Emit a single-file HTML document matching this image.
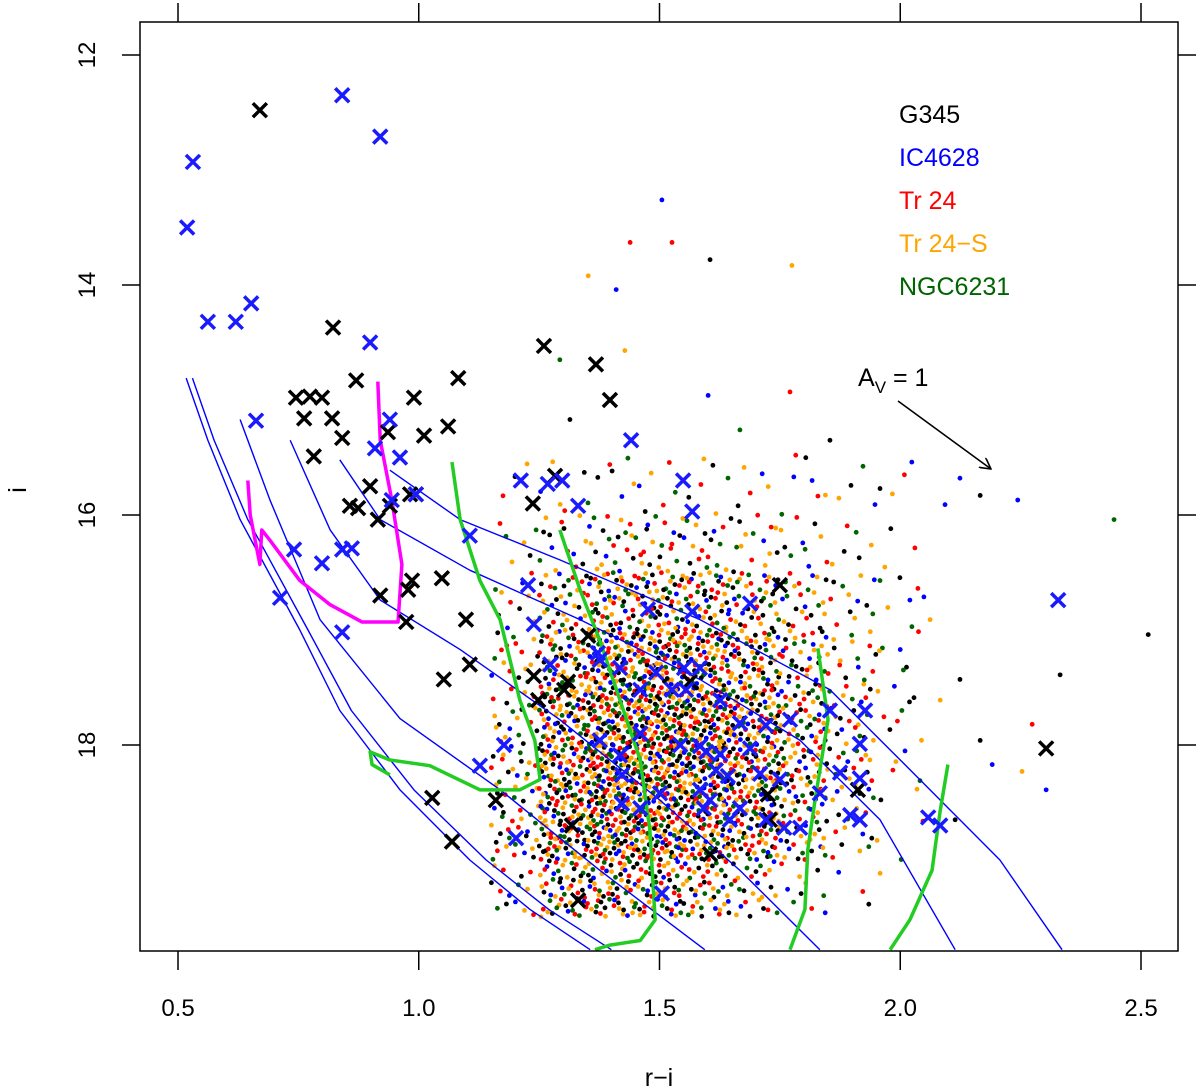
<!DOCTYPE html>
<html><head><meta charset="utf-8"><style>
html,body{margin:0;padding:0;background:#fff}
svg{display:block;font-family:"Liberation Sans",sans-serif}
</style></head><body>
<svg id="chart" width="1200" height="1092" viewBox="0 0 1200 1092" xmlns="http://www.w3.org/2000/svg">
<defs><clipPath id="clip"><rect x="140" y="22" width="1038" height="929"/></clipPath>
<marker id="ah" markerWidth="12" markerHeight="12" refX="11" refY="6" orient="auto" markerUnits="userSpaceOnUse"><path d="M0,0 L11,6 L0,12" fill="none" stroke="#000" stroke-width="1.6"/></marker></defs>
<g id="dots" clip-path="url(#clip)"></g>
<g id="lines" clip-path="url(#clip)"></g>
<g id="crosses" clip-path="url(#clip)"></g>
<rect x="140" y="22" width="1038" height="929" fill="none" stroke="#000" stroke-width="1.5"/>
<g id="axes"></g>
<text x="659" y="1086" font-size="25" text-anchor="middle">r−i</text>
<text x="0" y="0" font-size="25" text-anchor="middle" transform="translate(26,490) rotate(-90)">i</text>
<g font-size="25">
<text x="899" y="123" fill="#000">G345</text>
<text x="899" y="166" fill="#0000ff">IC4628</text>
<text x="899" y="209" fill="#ff0000">Tr 24</text>
<text x="899" y="252" fill="#ffa500">Tr 24−S</text>
<text x="899" y="295" fill="#006400">NGC6231</text>
</g>
<g>
<text x="858" y="386" font-size="25">A<tspan font-size="17" dy="7">V</tspan><tspan dy="-7"> = 1</tspan></text>
<line x1="898" y1="401" x2="991" y2="469" stroke="#000" stroke-width="1.6" marker-end="url(#ah)"/>
</g>
</svg>
<script>
const xTicks=[0.5,1.0,1.5,2.0,2.5];
const xTickLabels=["0.5","1.0","1.5","2.0","2.5"];
const yTicks=[12,14,16,18];
const yTickLabels=["12","14","16","18"];
const clusterNames=["G345","IC4628","Tr 24","Tr 24-S","NGC6231"];
const clusterColors=["#000000","#0000ff","#ff0000","#ffa500","#006400"];
const clusterShare=[0.22,0.12,0.22,0.26,0.18];
const gridRi=[1.15,1.25,1.35,1.45,1.55,1.65,1.75,1.85,1.95];
const gridI=[15.5,16.0,16.5,17.0,17.5,18.0,18.5,19.0];
const gridCounts=[
[3,5,7,6,6,5,5,4,2],
[6,14,20,20,17,14,10,6,3],
[10,34,50,55,50,38,24,12,5],
[16,55,80,85,75,58,36,17,6],
[20,72,100,105,95,75,46,22,8],
[24,80,105,105,95,78,48,20,6],
[26,78,95,95,82,64,36,12,3],
[14,50,60,54,42,25,10,3,1]];
const outRi=[1.505,1.439,1.526,1.352,1.605,1.410,1.775,1.428,1.601,1.771,1.854,1.783,1.817,1.958,2.024,2.124,2.093,2.166,2.244,2.444,2.515,2.332,2.274,2.191,2.253,2.303,2.124,2.083,2.000,2.062,2.020,2.166,2.114,1.937,1.958,1.667,1.293,1.314];
const outI=[13.26,13.63,13.63,13.92,13.78,14.04,13.83,14.57,14.96,14.93,15.35,15.48,15.70,15.77,15.54,15.68,15.91,15.83,15.87,16.04,17.04,17.39,17.82,18.17,18.23,18.39,17.43,17.61,17.17,16.91,16.74,17.96,18.65,18.13,16.57,15.26,14.65,15.17];
const outC=[1,2,2,3,0,1,3,3,1,2,0,2,1,0,1,1,1,0,1,4,0,0,2,1,3,1,0,3,1,3,1,0,0,3,4,4,4,0];
const blackRi=[0.670,0.822,0.745,0.774,0.799,0.870,0.762,0.820,0.782,0.841,0.990,1.082,1.061,1.011,0.899,0.857,0.874,0.936,0.982,0.994,0.940,0.915,0.920,0.986,0.978,1.048,0.974,1.098,1.052,1.106,1.260,1.368,1.397,1.237,1.283,1.248,1.302,1.310,1.352,1.563,1.750,1.028,1.069,1.160,1.318,1.331,1.605,1.725,1.912,2.303,1.729,1.239];
const blackI=[12.48,14.37,14.98,14.97,14.98,14.83,15.16,15.16,15.49,15.33,14.98,14.81,15.23,15.31,15.75,15.92,15.94,15.28,15.82,15.82,15.92,16.04,16.70,16.57,16.65,16.55,16.93,16.91,17.43,17.30,14.53,14.69,15.00,15.90,15.66,17.61,17.52,17.45,17.05,17.45,16.61,18.46,18.84,18.48,18.70,19.35,18.95,18.43,18.39,18.03,18.65,17.40];
const blueRi=[0.841,0.920,0.531,0.519,0.652,0.562,0.620,0.899,0.662,0.940,0.909,0.961,0.994,0.944,0.741,0.799,0.841,0.861,0.712,0.841,1.441,1.212,1.268,1.298,1.331,1.549,1.568,1.106,1.227,1.239,1.273,1.476,1.568,1.688,1.372,1.376,1.418,1.460,1.493,1.526,1.551,1.584,1.555,1.626,1.667,1.721,1.771,1.854,1.927,1.916,1.376,1.460,1.418,1.543,1.584,1.597,1.626,1.642,1.688,1.709,1.750,1.833,1.875,1.896,1.916,1.916,1.422,1.422,1.501,1.460,1.584,1.605,1.592,1.617,1.667,1.646,1.721,1.759,1.792,1.127,1.177,1.202,1.505,2.058,2.083,2.328];
const blueI=[12.35,12.71,12.93,13.50,14.16,14.32,14.32,14.50,15.18,15.17,15.42,15.50,15.82,15.87,16.30,16.42,16.30,16.29,16.72,17.02,15.35,15.70,15.73,15.70,15.92,15.70,15.97,16.18,16.61,16.95,17.30,16.82,16.84,16.77,17.20,17.26,17.33,17.52,17.37,17.52,17.33,17.33,17.52,17.61,17.81,17.83,17.78,17.70,17.70,17.99,17.96,17.90,18.09,18.00,18.01,18.06,18.08,18.27,18.03,18.25,18.30,18.42,18.24,18.61,18.65,18.29,18.26,18.51,18.42,18.55,18.39,18.48,18.55,18.22,18.55,18.65,18.65,18.72,18.72,18.18,18.00,18.81,19.29,18.63,18.70,16.74];
const iso1aRi=[0.517,0.562,0.629,0.753,0.836,0.961,1.106,1.231,1.356];
const iso1aI=[14.81,15.35,16.04,17.0,17.70,18.39,19.0,19.43,19.78];
const iso1bRi=[0.53,0.575,0.645,0.77,0.86,0.99,1.14,1.27,1.40];
const iso1bI=[14.81,15.35,16.04,17.0,17.70,18.39,19.0,19.43,19.78];
const iso2Ri=[0.629,0.691,0.795,0.961,1.169,1.376,1.594];
const iso2I=[15.17,15.87,16.91,17.77,18.39,19.09,19.78];
const iso3Ri=[0.733,0.816,0.920,1.086,1.293,1.501,1.667,1.833];
const iso3I=[15.35,16.13,16.74,17.17,17.78,18.48,19.09,19.78];
const iso4Ri=[0.836,0.920,1.106,1.335,1.584,1.792,1.958,2.114];
const iso4I=[15.52,16.04,16.48,16.91,17.43,17.96,18.65,19.78];
const iso5Ri=[0.940,1.086,1.293,1.584,1.854,2.0,2.207,2.336];
const iso5I=[15.61,16.04,16.39,16.91,17.52,18.13,19.0,19.78];
const magRi=[0.645,0.650,0.670,0.674,0.691,0.753,0.816,0.882,0.957,0.965,0.944,0.920,0.915];
const magI=[15.70,16.0,16.43,16.13,16.22,16.57,16.78,16.93,16.93,16.43,15.87,15.35,14.84];
const g1Ri=[1.069,1.086,1.127,1.169,1.210,1.241,1.252,1.210,1.127,1.023,0.940,0.899,0.903,0.940];
const g1I=[15.54,16.04,16.57,16.91,17.61,17.96,18.30,18.39,18.39,18.18,18.13,18.06,18.17,18.26];
const g2Ri=[1.293,1.335,1.376,1.418,1.460,1.480,1.491,1.460,1.397,1.366];
const g2I=[16.13,16.65,17.09,17.61,18.13,18.74,19.52,19.70,19.74,19.78];
const g3Ri=[1.829,1.850,1.823,1.808,1.802,1.771];
const g3I=[17.16,17.78,18.48,18.91,19.43,19.78];
const g4Ri=[2.099,2.083,2.066,2.020,1.979];
const g4I=[18.17,18.57,19.09,19.52,19.78];

const NS="http://www.w3.org/2000/svg";
function X(v){return 178+(v-0.5)*481.5;}
function Y(v){return 55+(v-12)*115;}
function mk(tag,attrs,parent){const e=document.createElementNS(NS,tag);for(const k in attrs)e.setAttribute(k,attrs[k]);parent.appendChild(e);return e;}
function halton(n,b){let f=1,r=0;while(n>0){f/=b;r+=f*(n%b);n=Math.floor(n/b);}return r;}

const axes=document.getElementById('axes');
xTicks.forEach((t,k)=>{
  const b=mk('line',{x1:X(t),x2:X(t),y1:951,y2:970,stroke:'#000','stroke-width':1.5},axes);
  
  
  const tp=mk('line',{x1:X(t),x2:X(t),y1:22,y2:3,stroke:'#000','stroke-width':1.5},axes);
  
  
  const tx=mk('text',{x:X(t),y:1016,'font-size':24,'text-anchor':'middle'},axes);
  tx.textContent=xTickLabels[k];
  
  
});
yTicks.forEach((t,k)=>{
  const l=mk('line',{x1:122,x2:140,y1:Y(t),y2:Y(t),stroke:'#000','stroke-width':1.5},axes);
  
  
  const r=mk('line',{x1:1178,x2:1196,y1:Y(t),y2:Y(t),stroke:'#000','stroke-width':1.5},axes);
  
  
  const tx=mk('text',{x:0,y:0,'font-size':24,'text-anchor':'middle',transform:`translate(95,${Y(t)}) rotate(-90)`},axes);
  tx.textContent=yTickLabels[k];
  
  
});

const dots=document.getElementById('dots');
const cum=[];let s=0;clusterShare.forEach(v=>{s+=v;cum.push(s);});
let gk=0;
gridCounts.forEach((row,r)=>{
  row.forEach((n,c)=>{
    const off=r*9+c*13+1;
    for(let k=0;k<n;k++){
      const fx=halton(k+off,2);
      const fy=halton(k+off,3);
      const ri=gridRi[c]+fx*0.1, iv=gridI[r]+fy*0.5;
      gk++;
      const u=halton(gk,5);
      let ci=0;while(ci<cum.length-1&&u>cum[ci])ci++;
      const d=mk('circle',{cx:X(ri).toFixed(1),cy:Y(iv).toFixed(1),r:2.4,fill:clusterColors[ci]},dots);
      
      
    }
  });
});
outRi.forEach((v,k)=>{
  const d=mk('circle',{cx:X(v),cy:Y(outI[k]),r:2.4,fill:clusterColors[outC[k]]},dots);
  
  
});

const lines=document.getElementById('lines');
function poly(ra,ia,color,w,name){
  const p=mk('polyline',{points:ra.map((v,k)=>X(v)+','+Y(ia[k])).join(' '),fill:'none',stroke:color,'stroke-width':w,'stroke-linejoin':'round'},lines);
  
  
}
poly(iso1aRi,iso1aI,'#0000ff',1.4,'isochrone-1a');
poly(iso1bRi,iso1bI,'#0000ff',1.4,'isochrone-1b');
poly(iso2Ri,iso2I,'#0000ff',1.4,'isochrone-2');
poly(iso3Ri,iso3I,'#0000ff',1.4,'isochrone-3');
poly(iso4Ri,iso4I,'#0000ff',1.4,'isochrone-4');
poly(iso5Ri,iso5I,'#0000ff',1.4,'isochrone-5');
poly(magRi,magI,'#ff00ff',3.5,'magenta-track');
poly(g1Ri,g1I,'#22cc22',3.5,'green-track-1');
poly(g2Ri,g2I,'#22cc22',3.5,'green-track-2');
poly(g3Ri,g3I,'#22cc22',3.5,'green-track-3');
poly(g4Ri,g4I,'#22cc22',3.5,'green-track-4');

const crosses=document.getElementById('crosses');
function cross(ri,iv,color,name){
  const x=X(ri),y=Y(iv),h=7;
  const p=mk('path',{d:`M${x-h},${y-h}L${x+h},${y+h}M${x-h},${y+h}L${x+h},${y-h}`,stroke:color,'stroke-width':3.5,fill:'none'},crosses);
  
  
}
blackRi.forEach((v,k)=>cross(v,blackI[k],'#000000','g345-cross'));
blueRi.forEach((v,k)=>cross(v,blueI[k],'#1a1aff','ic4628-cross'));
</script>
</body></html>
